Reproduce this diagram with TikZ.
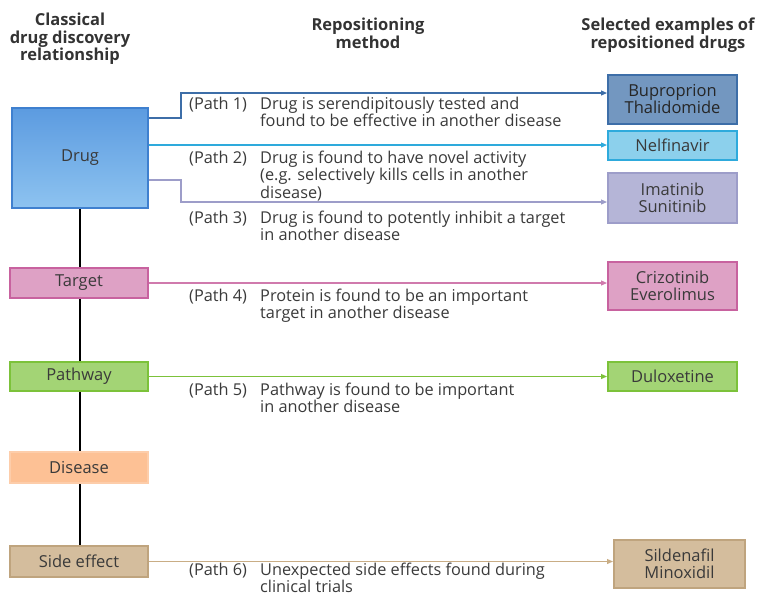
\documentclass[tikz,border=0pt]{standalone}
\usepackage{fontspec}
\setmainfont{Open Sans}
\usetikzlibrary{arrows.meta}
\definecolor{txt}{HTML}{3A3A3A}
\definecolor{c1}{HTML}{3D6EA8}
\definecolor{c2}{HTML}{2EAADC}
\definecolor{c3}{HTML}{9D9DC9}
\definecolor{c4}{HTML}{C8629F}
\definecolor{c5}{HTML}{7CC23A}
\definecolor{c6}{HTML}{C9AD85}
\definecolor{drugtop}{HTML}{5C9BE0}
\definecolor{drugbot}{HTML}{8DC3F0}
\definecolor{drugln}{HTML}{3F80CF}
\definecolor{dis}{HTML}{FDC195}
\tikzset{
  box/.style={draw, line width=2pt, inner sep=0pt, align=center, text=txt,
    font=\fontsize{16.5}{17}\selectfont},
  hdr/.style={align=center, text=black!80, inner sep=0pt, anchor=north,
    font=\bfseries\fontsize{16.5}{17.5}\selectfont},
  lbl/.style={align=left, text=txt, inner sep=0pt, anchor=north west,
    font=\fontsize{16.3}{17.2}\selectfont},
  conn/.style={line width=1.2pt},
  arr/.style={conn, -{Triangle[length=6pt,width=5pt]}},
  vline/.style={line width=2pt, black}
}
\begin{document}
\begin{tikzpicture}[x=1pt,y=-1pt]
\useasboundingbox (0,0) rectangle (758,598);
% headers
\node[hdr] (h1) at (70,13) {Classical\\drug discovery\\relationship};
\node[hdr] (h2) at (368,18) {Repositioning\\method};
\node[hdr] (h3) at (668,18) {Selected examples of\\repositioned drugs};
% left boxes
\node[box, minimum width=136pt, minimum height=100pt, draw=drugln,
  top color=drugtop, bottom color=drugbot] (drug) at (80,158) {Drug};
\node[box, minimum width=138pt, minimum height=30pt, draw=c4, fill=c4!60!white] (target) at (79,283) {Target};
\node[box, minimum width=138pt, minimum height=29pt, draw=c5, fill=c5!70!white] (pathway) at (79,376.5) {Pathway};
\node[box, minimum width=138pt, minimum height=31pt, draw=dis!80!white, fill=dis] (disease) at (79,467.5) {Disease};
\node[box, minimum width=138pt, minimum height=31pt, draw=c6!95!black, fill=c6!80!white] (side) at (79,561.5) {Side effect};
% vertical line
\draw[vline] (drug.south -| 80,0) -- (target.north -| 80,0);
\draw[vline] (target.south -| 80,0) -- (pathway.north -| 80,0);
\draw[vline] (pathway.south -| 80,0) -- (disease.north -| 80,0);
\draw[vline] (disease.south -| 80,0) -- (side.north -| 80,0);
% right boxes
\node[box, minimum width=129pt, minimum height=49pt, draw=c1, fill=c1!72!white, text=black!85] (bup) at (672.5,99.5) {Buproprion\\Thalidomide};
\node[box, minimum width=129pt, minimum height=29pt, draw=c2, fill=c2!55!white] (nelf) at (672.5,145.5) {Nelfinavir};
\node[box, minimum width=129pt, minimum height=50pt, draw=c3, fill=c3!75!white] (imat) at (672.5,198) {Imatinib\\Sunitinib};
\node[box, minimum width=129pt, minimum height=48pt, draw=c4, fill=c4!60!white] (criz) at (672.5,286) {Crizotinib\\Everolimus};
\node[box, minimum width=129pt, minimum height=29pt, draw=c5, fill=c5!70!white] (dulox) at (672.5,376.5) {Duloxetine};
\node[box, minimum width=131pt, minimum height=48pt, draw=c6!95!black, fill=c6!80!white] (sild) at (679.5,564) {Sildenafil\\Minoxidil};
% connectors
\coordinate (y1a) at (0,118);
\coordinate (k1) at (181,93);
\coordinate (y3a) at (0,180);
\coordinate (k3) at (181,202);
\draw[arr, c1] (drug.east |- y1a) -| (k1) -- (bup.west |- k1);
\draw[arr, c2] (drug.east) ++(0,-13) coordinate (s2) -- (nelf.west |- s2);
\draw[arr, c3] (drug.east |- y3a) -| (k3) -- (imat.west |- k3);
\draw[arr, c4!85!white] (target.east) -- (criz.west |- target.east);
\draw[arr, c5] (pathway.east) -- (dulox.west |- pathway.east);
\draw[arr, c6] (side.east) -- (sild.west |- side.east);
% labels
\node[lbl] (l1) at (189,97) {(Path 1)};
\node[lbl] (t1) at (260,97) {Drug is serendipitously tested and\\found to be effective in another disease};
\node[lbl] (l2) at (189,151) {(Path 2)};
\node[lbl] (t2) at (260,151) {Drug is found to have novel activity\\(e.g. selectively kills cells in another\\disease)};
\node[lbl] (l3) at (189,211) {(Path 3)};
\node[lbl] (t3) at (260,211) {Drug is found to potently inhibit a target\\in another disease};
\node[lbl] (l4) at (189,289) {(Path 4)};
\node[lbl] (t4) at (260,289) {Protein is found to be an important\\target in another disease};
\node[lbl] (l5) at (189,383) {(Path 5)};
\node[lbl] (t5) at (260,383) {Pathway is found to be important\\in another disease};
\node[lbl] (l6) at (189,563) {(Path 6)};
\node[lbl, font=\fontsize{16.3}{16.2}\selectfont] (t6) at (260,563) {Unexpected side effects found during\\clinical trials};
\end{tikzpicture}
\end{document}
